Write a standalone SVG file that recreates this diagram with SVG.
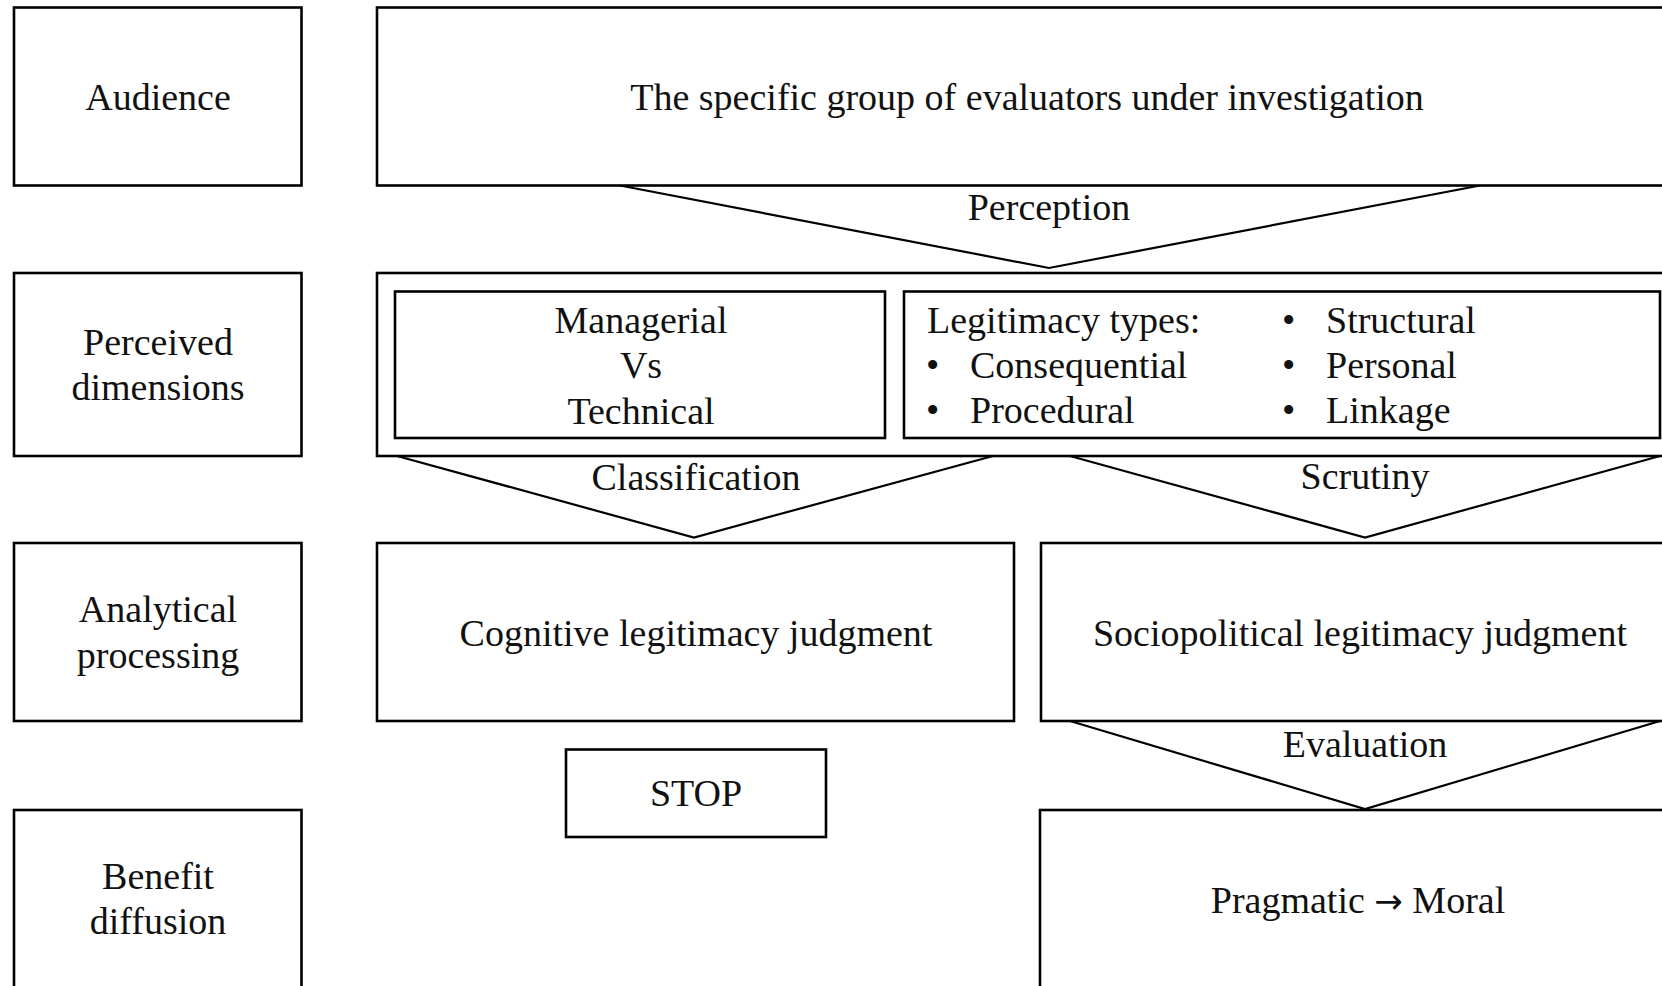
<svg xmlns="http://www.w3.org/2000/svg" width="1662" height="986" viewBox="0 0 1662 986">
<style>
.box{fill:#fff;stroke:#000;stroke-width:2.6}
.chev{fill:none;stroke:#000;stroke-width:2.2;stroke-linejoin:miter}
text{font-family:"Liberation Serif","Times New Roman",serif;font-size:38px;fill:#111}
.c{text-anchor:middle}
.arr{font-family:"DejaVu Sans",sans-serif;font-size:34px}
</style>
<rect width="1662" height="986" fill="#fff"/>
<g id="connectors">
<polyline class="chev" points="620,185.5 1049,268 1480,185.5"/>
<polyline class="chev" points="397,456 694,537.5 993,456"/>
<polyline class="chev" points="1070,456 1365,537.5 1660,456"/>
<polyline class="chev" points="1070,721 1365,809 1660,721"/>
</g>
<g id="label-audience"><rect class="box" x="14" y="7.5" width="287.5" height="178"/><text class="c" x="158" y="110">Audience</text></g>
<g id="label-perceived"><rect class="box" x="14" y="273" width="287.5" height="183"/><text class="c" x="158" y="355">Perceived</text><text class="c" x="158" y="400">dimensions</text></g>
<g id="label-analytical"><rect class="box" x="14" y="543" width="287.5" height="178"/><text class="c" x="158" y="622">Analytical</text><text class="c" x="158" y="668">processing</text></g>
<g id="label-benefit"><rect class="box" x="14" y="810" width="287.5" height="190"/><text class="c" x="158" y="889">Benefit</text><text class="c" x="158" y="934">diffusion</text></g>
<g id="audience-box"><rect class="box" x="377" y="7.5" width="1300" height="178"/><text class="c" x="1027" y="110">The specific group of evaluators under investigation</text></g>
<g id="perception-label"><text class="c" x="1049" y="220">Perception</text></g>
<g id="dimensions-outer"><rect class="box" x="377" y="273" width="1300" height="183"/></g>
<g id="managerial-box"><rect class="box" x="395" y="291.5" width="490" height="146.5"/><text class="c" x="641" y="333">Managerial</text><text class="c" x="641" y="378">Vs</text><text class="c" x="641" y="424">Technical</text></g>
<g id="legitimacy-box"><rect class="box" x="904" y="291.5" width="756" height="146.5"/>
<text x="927" y="333">Legitimacy types:</text>
<text x="926" y="378">•</text><text x="970" y="378">Consequential</text>
<text x="926" y="423">•</text><text x="970" y="423">Procedural</text>
<text x="1282" y="333">•</text><text x="1326" y="333">Structural</text>
<text x="1282" y="378">•</text><text x="1326" y="378">Personal</text>
<text x="1282" y="423">•</text><text x="1326" y="423">Linkage</text>
</g>
<g id="classification-label"><text class="c" x="696" y="490">Classification</text></g>
<g id="scrutiny-label"><text class="c" x="1365" y="489">Scrutiny</text></g>
<g id="cognitive-box"><rect class="box" x="377" y="543" width="637" height="178"/><text class="c" x="696" y="646">Cognitive legitimacy judgment</text></g>
<g id="sociopolitical-box"><rect class="box" x="1041" y="543" width="640" height="178"/><text class="c" x="1360" y="646">Sociopolitical legitimacy judgment</text></g>
<g id="evaluation-label"><text class="c" x="1365" y="757">Evaluation</text></g>
<g id="stop-box"><rect class="box" x="566" y="749.5" width="260" height="87.5"/><text class="c" x="696" y="806">STOP</text></g>
<g id="pragmatic-box"><rect class="box" x="1040" y="810" width="640" height="190"/><text class="c" x="1358" y="913">Pragmatic <tspan class="arr">→</tspan> Moral</text></g>
</svg>
